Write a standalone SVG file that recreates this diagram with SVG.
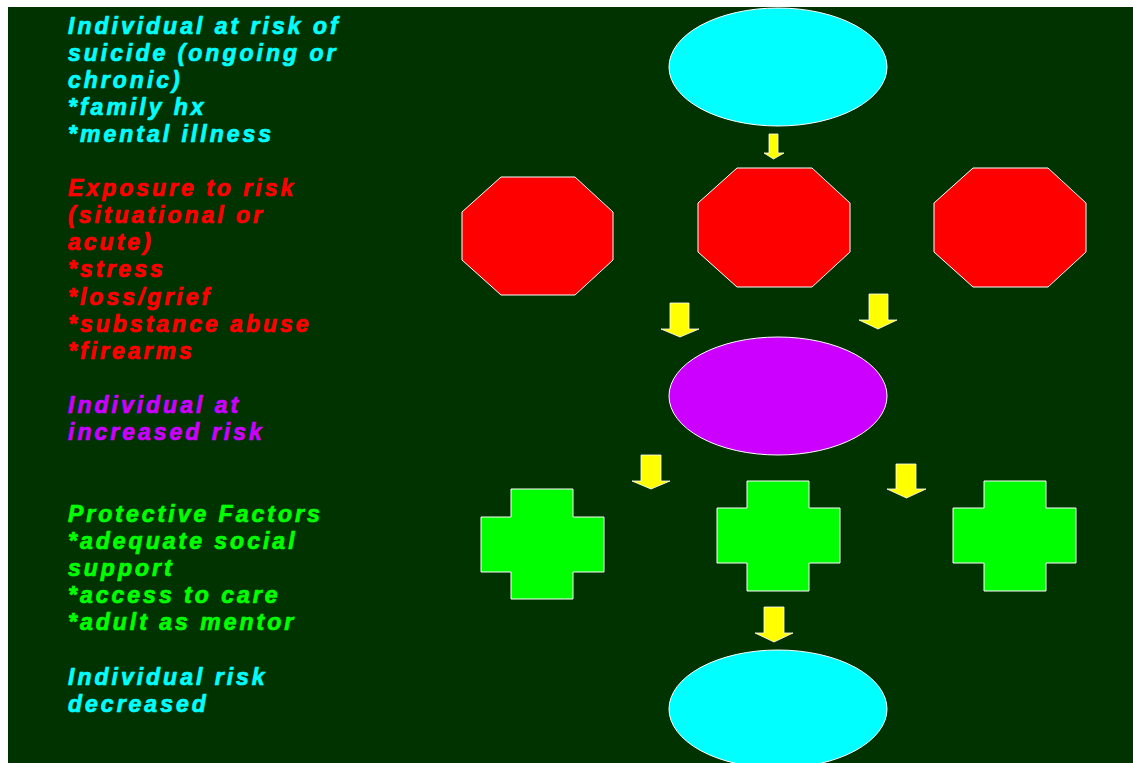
<svg xmlns="http://www.w3.org/2000/svg" width="1133" height="763" viewBox="0 0 1133 763">
<style>
.t{font-family:"Liberation Sans",Arial,sans-serif;font-size:23px;font-weight:bold;font-style:italic;letter-spacing:3px;stroke-width:0.7px;stroke-linejoin:round}
.cy{fill:#00FFFF;stroke:#00FFFF}.rd{fill:#FF0000;stroke:#FF0000}.pu{fill:#CC00FF;stroke:#CC00FF}.gr{fill:#00FF00;stroke:#00FF00}
.sh{stroke:#FFFFFF;stroke-width:1}
.ar{fill:#FFFF00;stroke:#FFFFFF;stroke-width:0.8}
</style>
<rect x="0" y="0" width="1133" height="763" fill="#FFFFFF"/>
<rect x="8" y="7" width="1125" height="756" fill="#003300"/>
<g id="legend">
<text class="t cy" x="68" y="34">Individual at risk of</text>
<text class="t cy" x="68" y="61">suicide (ongoing or</text>
<text class="t cy" x="68" y="88">chronic)</text>
<text class="t cy" x="68" y="115">*family hx</text>
<text class="t cy" x="68" y="142">*mental illness</text>
<text class="t rd" x="68" y="196">Exposure to risk</text>
<text class="t rd" x="68" y="223">(situational or</text>
<text class="t rd" x="68" y="250">acute)</text>
<text class="t rd" x="68" y="277">*stress</text>
<text class="t rd" x="68" y="305">*loss/grief</text>
<text class="t rd" x="68" y="332">*substance abuse</text>
<text class="t rd" x="68" y="359">*firearms</text>
<text class="t pu" x="68" y="413">Individual at</text>
<text class="t pu" x="68" y="440">increased risk</text>
<text class="t gr" x="68" y="522">Protective Factors</text>
<text class="t gr" x="68" y="549">*adequate social</text>
<text class="t gr" x="68" y="576">support</text>
<text class="t gr" x="68" y="603">*access to care</text>
<text class="t gr" x="68" y="630">*adult as mentor</text>
<text class="t cy" x="68" y="685">Individual risk</text>
<text class="t cy" x="68" y="712">decreased</text>
</g>
<g id="node-top"><ellipse class="sh" cx="778" cy="67" rx="109" ry="59" fill="#00FFFF"/></g>
<g id="node-oct-left"><polygon class="sh" fill="#FF0000" points="501,177 575,177 613,212 613,260 575,295 501,295 462,260 462,212"/></g>
<g id="node-oct-center"><polygon class="sh" fill="#FF0000" points="737,168 812,168 850,203 850,252 812,287 737,287 698,252 698,203"/></g>
<g id="node-oct-right"><polygon class="sh" fill="#FF0000" points="973,168 1048,168 1086,203 1086,252 1048,287 973,287 934,252 934,203"/></g>
<g id="node-mid"><ellipse class="sh" cx="778" cy="396" rx="109" ry="59" fill="#CC00FF"/></g>
<g id="node-cross-left"><polygon class="sh" fill="#00FF00" points="511,489 573,489 573,517 604,517 604,572 573,572 573,599 511,599 511,572 481,572 481,517 511,517"/></g>
<g id="node-cross-center"><polygon class="sh" fill="#00FF00" points="747,481 809,481 809,508 840,508 840,563 809,563 809,591 747,591 747,563 717,563 717,508 747,508"/></g>
<g id="node-cross-right"><polygon class="sh" fill="#00FF00" points="984,481 1046,481 1046,508 1076,508 1076,563 1046,563 1046,591 984,591 984,563 953,563 953,508 984,508"/></g>
<g id="node-bottom"><ellipse class="sh" cx="778" cy="709" rx="109" ry="59" fill="#00FFFF"/></g>
<g id="connectors">
<polygon class="ar" points="769,134 778,134 778,153 784,153 773.5,159 764,153 769,153"/>
<polygon class="ar" points="670,303 689,303 689,329 699,329 680,337 661,329 670,329"/>
<polygon class="ar" points="869,294 888,294 888,320 897,320 878,329 859,320 869,320"/>
<polygon class="ar" points="641,455 661,455 661,481 670,481 651,489 632,481 641,481"/>
<polygon class="ar" points="896,464 916,464 916,489 926,489 906.5,498 887,489 896,489"/>
<polygon class="ar" points="764,607 784,607 784,633 793,633 774,642 755,633 764,633"/>
</g>
</svg>
